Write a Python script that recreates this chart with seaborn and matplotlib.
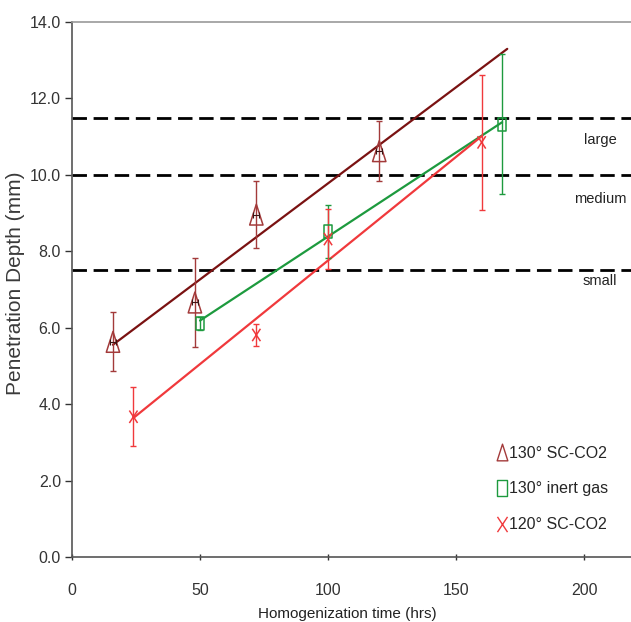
import numpy as np
import pandas as pd
import seaborn as sns
import matplotlib
matplotlib.use("Agg")
import matplotlib.pyplot as plt
from matplotlib.lines import Line2D
from matplotlib.path import Path

# ---------------- data ----------------
series_names = ["130° SC-CO2", "130° inert gas", "120° SC-CO2"]

x_tri = [16, 48, 72, 120]
y_tri = [5.63, 6.66, 8.96, 10.62]
e_tri = [0.77, 1.17, 0.87, 0.79]
xe_tri = [1.2, 1.2, 1.2, 1.2]   # small horizontal error bars inside the triangles

x_sq = [50, 100, 168]
y_sq = [6.11, 8.52, 11.32]
e_sq = [0.18, 0.70, 1.83]

x_x = [24, 72, 100, 160]
y_x = [3.67, 5.81, 8.32, 10.85]
e_x = [0.77, 0.28, 0.78, 1.76]

# trendline extent (forecast range) per series
fit_range = [(16, 170), (50, 168), (24, 160)]

threshold_vals = [7.5, 10.0, 11.5]
size_labels = ["small", "medium", "large"]
size_label_y = [7.22, 9.37, 10.9]

xticks = [0, 50, 100, 150, 200]
yticks = [0.0, 2.0, 4.0, 6.0, 8.0, 10.0, 12.0, 14.0]

# ---------------- style ----------------
sns.set_theme(style="white")
plt.rcParams["font.family"] = ["Liberation Sans", "DejaVu Sans"]

line_colors = ["#7a1212", "#1d9a3e", "#f0393c"]
mark_colors = ["#a33a3a", "#1d9a3e", "#f0393c"]

# tall, narrow marker shapes (as in the reference)
tri_path = Path([(-0.32, -0.5), (0.32, -0.5), (0.0, 0.5), (-0.32, -0.5)],
                [Path.MOVETO, Path.LINETO, Path.LINETO, Path.CLOSEPOLY])
sq_path = Path([(-0.31, -0.5), (0.31, -0.5), (0.31, 0.5), (-0.31, 0.5), (-0.31, -0.5)],
               [Path.MOVETO, Path.LINETO, Path.LINETO, Path.LINETO, Path.CLOSEPOLY])
x_path = Path([(-0.33, -0.5), (0.33, 0.5), (-0.33, 0.5), (0.33, -0.5)],
              [Path.MOVETO, Path.LINETO, Path.MOVETO, Path.LINETO])
marker_paths = [tri_path, sq_path, x_path]
marker_sizes = [225, 88, 80]

fig = plt.figure(figsize=(6.31, 6.22), dpi=100)
ax = fig.add_axes([72 / 631, 1 - 557 / 622, 1 - 72 / 631 + 0.01, (557 - 22) / 622])

xs = [x_tri, x_sq, x_x]
ys = [y_tri, y_sq, y_x]
es = [e_tri, e_sq, e_x]

# dashed thresholds
for v in threshold_vals:
    ax.axhline(v, color="black", lw=2.0, ls=(0, (5.2, 2.4)), zorder=1)

for i in range(3):
    x = np.array(xs[i], float)
    y = np.array(ys[i], float)
    slope, icpt = np.polyfit(x, y, 1)
    fx = np.array(fit_range[i], float)
    fit_df = pd.DataFrame({"x": fx, "y": icpt + slope * fx})
    sns.lineplot(data=fit_df, x="x", y="y", ax=ax, color=line_colors[i], lw=1.6, zorder=2)
    ax.errorbar(x, y, yerr=es[i], fmt="none", ecolor=mark_colors[i], elinewidth=1.0,
                capsize=2.5, capthick=1.0, zorder=3)
    df = pd.DataFrame({"x": x, "y": y})
    sns.scatterplot(data=df, x="x", y="y", ax=ax, marker=marker_paths[i], s=marker_sizes[i],
                    facecolor="none", edgecolor=mark_colors[i], linewidth=1.1, zorder=4)

ax.errorbar(x_tri, y_tri, xerr=xe_tri, fmt="none", ecolor="#3a1414", elinewidth=0.8,
            capsize=2.0, capthick=0.8, zorder=5)

for lab, yy in zip(size_labels, size_label_y):
    ax.text(206.3, yy, lab, ha="center", va="center", fontsize=10.5, color="#222222")

ax.set_xlim(0, 220.8)
ax.set_ylim(0, 14)
ax.set_xticks(xticks)
ax.set_yticks(yticks)
ax.set_yticklabels([f"{v:.1f}" for v in yticks])
ax.tick_params(axis="both", labelsize=11.5, colors="#333333", length=5, width=1, direction="inout",
               bottom=True, left=True)
ax.tick_params(axis="y", direction="out", length=5, pad=3)
ax.tick_params(axis="x", pad=16)

for s in ["left", "bottom", "top"]:
    ax.spines[s].set_color("#555555")
    ax.spines[s].set_linewidth(1.2)
ax.spines["top"].set_color("#999999")
ax.spines["right"].set_visible(False)

ax.set_xlabel("Homogenization time (hrs)", fontsize=11, color="#222222")
ax.xaxis.set_label_coords(0.4865, -0.093)
ax.xaxis.label.set_va("top")
ax.set_ylabel("Penetration Depth (mm)", fontsize=15, color="#3a3a3a")
ax.yaxis.set_label_coords(-0.083, 0.512)

handles = [
    Line2D([], [], ls="none", marker=marker_paths[j], markersize=ms, markerfacecolor="none",
           markeredgecolor=mark_colors[j], markeredgewidth=1.0)
    for j, ms in enumerate([12, 11, 11])
]
leg = ax.legend(handles, series_names, loc="upper left", bbox_to_anchor=(0.739, 0.223),
                frameon=False, borderpad=0, handlelength=0.5, handletextpad=0.2,
                labelspacing=1.3, prop={"size": 11.5})

fig.savefig("out.png", dpi=100)
